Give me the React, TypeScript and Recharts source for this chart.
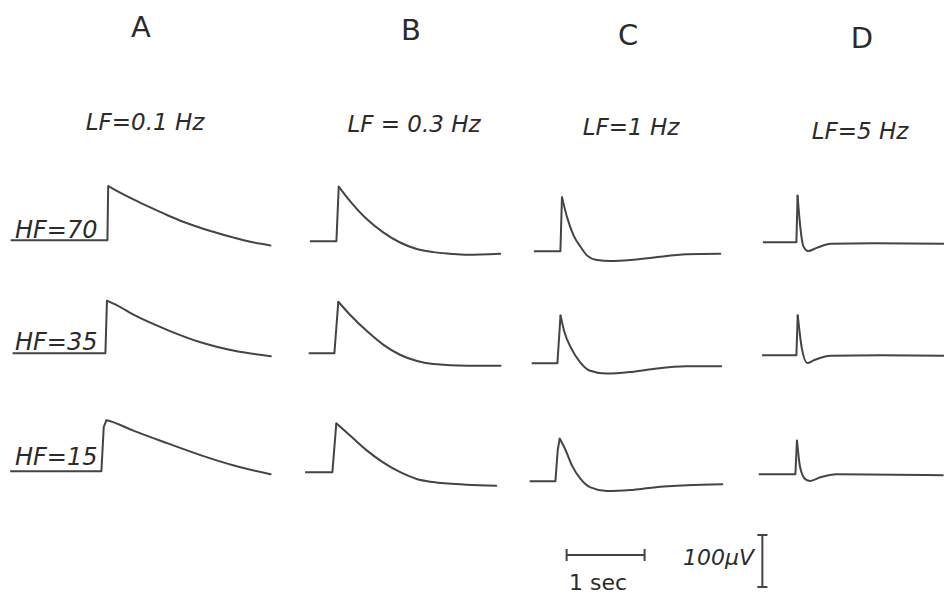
import { LineChart, Line, XAxis, YAxis, ReferenceLine } from "recharts";

// [seconds from step onset, µV]
const A_HF70 = [[-1.24, 0], [0, 0], [0.01, 104], [0.12, 95], [0.34, 78], [0.55, 63], [0.77, 48], [0.98, 35], [1.19, 24], [1.41, 14], [1.62, 5], [1.83, -3], [2.09, -10]];
const A_HF35 = [[-1.19, 0], [0, 0], [0.02, 101], [0.15, 92], [0.36, 74], [0.79, 45], [1.22, 21], [1.64, 5], [2.12, -6]];
const A_HF15 = [[-1.17, 0], [0, 0], [0.03, 85], [0.065, 98], [0.115, 96], [0.41, 78], [0.84, 54], [1.27, 31], [1.7, 11], [2.17, -6]];

const B_HF70 = [[-0.34, 0], [0, 0], [0.03, 105], [0.17, 78], [0.385, 43], [0.6, 17], [0.81, -2], [1.03, -15], [1.24, -21], [1.45, -24], [1.67, -26], [2.1, -24]];
const B_HF35 = [[-0.33, 0], [0, 0], [0.05, 99], [0.2, 74], [0.42, 42], [0.63, 16], [0.84, -3], [1.06, -15], [1.27, -21], [1.7, -24], [2.13, -24]];
const B_HF15 = [[-0.35, 0], [0, 0], [0.05, 94], [0.23, 70], [0.44, 42], [0.65, 19], [0.87, 0], [1.08, -13], [1.29, -19], [1.72, -24], [2.1, -26]];

const C_HF70 = [[-0.34, 0], [0, 0], [0.02, 104], [0.086, 65], [0.17, 30], [0.26, 8], [0.34, -8], [0.47, -17], [0.64, -19], [0.9, -17], [1.2, -12], [1.62, -6], [2.05, -5]];
const C_HF35 = [[-0.33, 0], [0, 0], [0.04, 92], [0.09, 60], [0.18, 28], [0.29, 2], [0.41, -14], [0.63, -20], [0.93, -17], [1.23, -11], [1.65, -6], [2.1, -6]];
const C_HF15 = [[-0.33, 0], [0, 0], [0.03, 60], [0.055, 82], [0.13, 60], [0.21, 31], [0.32, 5], [0.45, -12], [0.66, -19], [0.96, -17], [1.26, -12], [1.69, -8], [2.14, -6]];

const D_HF70 = [[-0.43, 0], [0, 0], [0.015, 90], [0.05, 29], [0.09, -8], [0.15, -17], [0.26, -11], [0.44, -3], [0.99, -2], [1.89, -3]];
const D_HF35 = [[-0.44, 0], [0, 0], [0.017, 77], [0.07, 13], [0.14, -15], [0.22, -10], [0.44, -1], [1.08, 0], [1.89, -1]];
const D_HF15 = [[-0.47, 0], [0, 0], [0.02, 65], [0.06, 14], [0.13, -10], [0.19, -13], [0.32, -6], [0.53, 0], [1.89, -2]];

const columnLetters = ["A", "B", "C", "D"];
const lfLabels = ["LF=0.1 Hz", "LF = 0.3 Hz", "LF=1 Hz", "LF=5 Hz"];
const hfLabels = ["HF=70", "HF=35", "HF=15"];
const SCALE_SEC = 1;
const SCALE_UV = 100;

// drawing scale shared by every panel
const PX_PER_SEC = 78;
const PX_PER_UV = 0.52;
const T_MIN = -1.3;
const T_MAX = 2.2;
const V_MIN = -40;
const V_MAX = 110;
const INK = "#444";
const TEXT = "#2b2b2b";
const FONT = '"DejaVu Sans", "Liberation Sans", sans-serif';

// panel origins: pixel position of (step onset, baseline)
const panels = [
  { pts: A_HF70, x: 107, y: 240 },
  { pts: A_HF35, x: 105, y: 352.7 },
  { pts: A_HF15, x: 101, y: 470.7 },
  { pts: B_HF70, x: 336.7, y: 240.7 },
  { pts: B_HF35, x: 334.3, y: 353.3 },
  { pts: B_HF15, x: 332.3, y: 471.7 },
  { pts: C_HF70, x: 560, y: 250.7 },
  { pts: C_HF35, x: 557.7, y: 362.7 },
  { pts: C_HF15, x: 555, y: 481 },
  { pts: D_HF70, x: 796, y: 241.7 },
  { pts: D_HF35, x: 796, y: 355 },
  { pts: D_HF15, x: 795, y: 474 },
];

const letterPos = [
  { x: 141, y: 37 },
  { x: 411, y: 40 },
  { x: 628, y: 45 },
  { x: 862, y: 48 },
];
const lfPos = [
  { x: 145, y: 130 },
  { x: 414, y: 132 },
  { x: 631, y: 135 },
  { x: 860, y: 139 },
];
const hfPos = [
  { x: 15, y: 238 },
  { x: 15, y: 350 },
  { x: 15, y: 465 },
];

function Trace({ pts, x, y }: { pts: number[][]; x: number; y: number }) {
  const peak = pts.reduce((best, p, i) => (p[1] > pts[best][1] ? i : best), 0);
  const data = pts.map(([t, v], i) => ({
    t,
    rise: i <= peak ? v : undefined,
    decay: i >= peak ? v : undefined,
  }));
  const width = (T_MAX - T_MIN) * PX_PER_SEC;
  const height = (V_MAX - V_MIN) * PX_PER_UV;
  return (
    <div style={{ position: "absolute", left: x + T_MIN * PX_PER_SEC, top: y - V_MAX * PX_PER_UV }}>
      <LineChart width={width} height={height} data={data} margin={{ top: 0, right: 0, bottom: 0, left: 0 }}>
        <XAxis dataKey="t" type="number" domain={[T_MIN, T_MAX]} hide allowDataOverflow />
        <YAxis type="number" domain={[V_MIN, V_MAX]} hide allowDataOverflow />
        <Line dataKey="rise" type="linear" stroke={INK} strokeWidth={2} dot={false} isAnimationActive={false} strokeLinejoin="round" />
        <Line dataKey="decay" type="monotone" stroke={INK} strokeWidth={2} dot={false} isAnimationActive={false} strokeLinecap="round" />
      </LineChart>
    </div>
  );
}

function ScaleBars() {
  // origin = left end of the time bar
  const ox = 567;
  const oy = 555;
  const tMin = -0.2;
  const tMax = 2.8;
  const vMin = -70;
  const vMax = 50;
  const barT = 2.51; // where the µV bar stands
  const vLo = -61.5;
  const vHi = vLo + SCALE_UV;
  const tick = 11.5;
  const serif = 0.065;
  const data = [
    { t: 0, v: 0 },
    { t: SCALE_SEC, v: 0 },
  ];
  return (
    <div style={{ position: "absolute", left: ox + tMin * PX_PER_SEC, top: oy - vMax * PX_PER_UV }}>
      <LineChart
        width={(tMax - tMin) * PX_PER_SEC}
        height={(vMax - vMin) * PX_PER_UV}
        data={data}
        margin={{ top: 0, right: 0, bottom: 0, left: 0 }}
      >
        <XAxis dataKey="t" type="number" domain={[tMin, tMax]} hide allowDataOverflow />
        <YAxis type="number" domain={[vMin, vMax]} hide allowDataOverflow />
        <Line dataKey="v" type="linear" stroke={INK} strokeWidth={2} dot={false} isAnimationActive={false} />
        <ReferenceLine segment={[{ x: 0, y: -tick }, { x: 0, y: tick }]} stroke={INK} strokeWidth={2} ifOverflow="visible" />
        <ReferenceLine segment={[{ x: SCALE_SEC, y: -tick }, { x: SCALE_SEC, y: tick }]} stroke={INK} strokeWidth={2} ifOverflow="visible" />
        <ReferenceLine segment={[{ x: barT, y: vLo }, { x: barT, y: vHi }]} stroke={INK} strokeWidth={2} ifOverflow="visible" />
        <ReferenceLine segment={[{ x: barT - serif, y: vHi }, { x: barT + serif, y: vHi }]} stroke={INK} strokeWidth={2} ifOverflow="visible" />
        <ReferenceLine segment={[{ x: barT - serif, y: vLo }, { x: barT + serif, y: vLo }]} stroke={INK} strokeWidth={2} ifOverflow="visible" />
      </LineChart>
    </div>
  );
}

export default function App() {
  return (
    <div
      style={{
        position: "absolute",
        left: 0,
        top: 0,
        width: 944,
        height: 596,
        overflow: "hidden",
        background: "#fff",
      }}
    >
      {panels.map((p, i) => (
        <Trace key={i} pts={p.pts} x={p.x} y={p.y} />
      ))}
      <ScaleBars />
      <svg width={944} height={596} style={{ position: "absolute", left: 0, top: 0, pointerEvents: "none" }}>
        <g fill={TEXT} fontFamily={FONT}>
          {columnLetters.map((c, i) => (
            <text key={c} x={letterPos[i].x} y={letterPos[i].y} fontSize={29} textAnchor="middle">
              {c}
            </text>
          ))}
          {lfLabels.map((s, i) => (
            <text key={s} x={lfPos[i].x} y={lfPos[i].y} fontSize={23} fontStyle="italic" textAnchor="middle">
              {s}
            </text>
          ))}
          {hfLabels.map((s, i) => (
            <text key={s} x={hfPos[i].x} y={hfPos[i].y} fontSize={24} fontStyle="italic">
              {s}
            </text>
          ))}
          <text x={598} y={590} fontSize={22} textAnchor="middle">
            {SCALE_SEC} sec
          </text>
          <text x={683} y={565} fontSize={22} fontStyle="italic">
            {SCALE_UV}µV
          </text>
        </g>
      </svg>
    </div>
  );
}
